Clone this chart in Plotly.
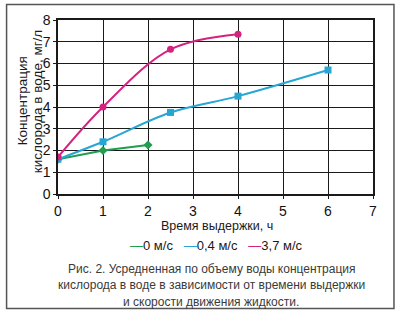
import plotly.graph_objects as go

# Data
t_0 = [0, 1, 2]
c_0 = [1.6, 2.0, 2.25]
t_04 = [0, 1, 2.5, 4, 6]
c_04 = [1.6, 2.4, 3.75, 4.5, 5.7]
t_37 = [0, 1, 2.5, 4]
c_37 = [1.7, 4.0, 6.65, 7.35]
names = ["0 м/с", "0,4 м/с", "3,7 м/с"]
colors = ["#1f9e50", "#27a6d3", "#d4237f"]

x_ticks = list(range(0, 8))
y_ticks = list(range(0, 9))

fig = go.Figure()
series = [(t_0, c_0, "linear", "diamond"), (t_04, c_04, "spline", "square"), (t_37, c_37, "spline", "circle")]
for (xs, ys, shape, sym), nm, col in zip(series, names, colors):
    fig.add_trace(go.Scatter(x=xs, y=ys, mode="lines+markers", name=nm, showlegend=False,
                             line=dict(color=col, width=2, shape=shape, smoothing=1.0),
                             marker=dict(color=col, size=7, symbol=sym)))

font = "Liberation Sans, Arial, sans-serif"
ax_common = dict(showgrid=True, gridcolor="#1a1a1a", gridwidth=1.3, zeroline=False,
                 showline=True, linecolor="#1a1a1a", linewidth=1.5, mirror=True,
                 ticks="outside", ticklen=3, tickcolor="#1a1a1a",
                 tickfont=dict(family=font, size=14, color="#111111"))
fig.update_xaxes(range=[0, 7], tickvals=x_ticks, **ax_common)
fig.update_yaxes(range=[0, 8], tickvals=y_ticks, **ax_common)

W, H = 405, 319
L, R, T, B = 57.5, 32, 13, 125
pw, ph = W - L - R, H - T - B

def px(x):
    return (x - L) / pw

def py(y):
    return (H - B - y) / ph

legend_text = "   ".join(
    f"<span style='color:{c}'>—</span>{n}" for n, c in zip(names, colors))

ann = [
    dict(text="Время выдержки, ч", x=px(217), y=py(227), size=12.5, color="#1a1a1a"),
    dict(text=legend_text, x=px(216), y=py(248), size=13, color="#1a1a1a"),
    dict(text="Рис. 2. Усредненная по объему воды концентрация", x=px(211), y=py(272), size=12, color="#3a3a3a"),
    dict(text="кислорода в воде в зависимости от времени выдержки", x=px(211), y=py(289), size=12, color="#3a3a3a"),
    dict(text="и скорости движения жидкости.", x=px(211), y=py(306), size=12, color="#3a3a3a"),
]
annotations = [dict(text=a["text"], x=a["x"], y=a["y"], xref="paper", yref="paper",
                    showarrow=False, xanchor="center", yanchor="middle",
                    font=dict(family=font, size=a["size"], color=a["color"])) for a in ann]
for txt, xc, yc in [("Концентрация", 22, 97), ("кислорода в воде, мг/л", 37, 98)]:
    annotations.append(dict(text=txt, x=px(xc), y=py(yc),
                            xref="paper", yref="paper", showarrow=False, textangle=-90,
                            xanchor="center", yanchor="middle",
                            font=dict(family=font, size=13.5, color="#1a1a1a")))

fig.update_layout(
    width=W, height=H, margin=dict(l=L, r=R, t=T, b=B),
    paper_bgcolor="white", plot_bgcolor="white",
    showlegend=False,
    annotations=annotations,
    shapes=[dict(type="rect", xref="paper", yref="paper", x0=px(6), x1=px(394), y0=py(313), y1=py(-3),
                 line=dict(color="#555555", width=1.5), layer="below")],
)

fig.write_html("out.html")
